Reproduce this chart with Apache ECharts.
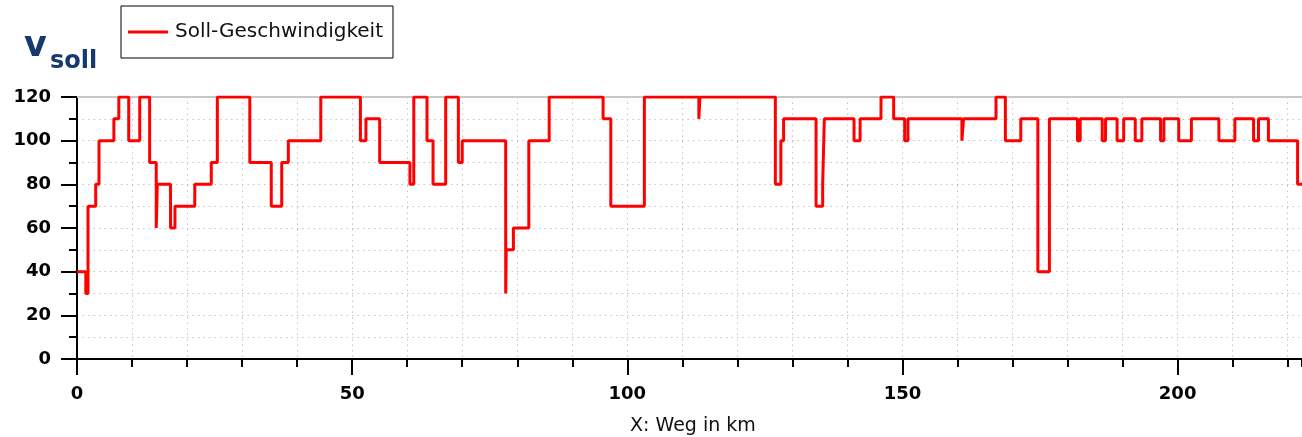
<!DOCTYPE html>
<html>
<head>
<meta charset="utf-8">
<script src="https://cdn.jsdelivr.net/npm/echarts@6/dist/echarts.min.js"></script>
<style>
  html, body { margin: 0; padding: 0; background: #fff; }
  #chart { width: 1302px; height: 437px; }
</style>
</head>
<body>
<div id="chart"></div>
<script>
// Weg in km: Beginn jedes Abschnitts
var wegKm = [
  0, 1.6, 2.0, 3.4, 4.0, 6.7, 7.6, 9.4, 11.4, 13.2, 14.4, 14.6, 17.0, 17.8, 21.4, 24.4, 25.5,
  31.4, 35.3, 37.2, 38.4, 44.3, 51.5, 52.5, 55.0, 60.5, 61.2, 63.6, 64.7, 67.0, 69.3, 70.0,
  77.9, 78.0, 79.3, 82.1, 85.8, 95.6, 97.0, 103.1, 113.0, 113.2, 126.9, 127.9, 128.4,
  134.3, 135.5, 135.8, 141.2, 142.3, 146.1, 148.4, 150.4, 151.0, 160.8, 161.1, 167.0,
  168.7, 171.5, 174.6, 176.7, 181.8, 182.3, 186.3, 186.9, 189.0, 190.2, 192.3, 193.5,
  196.9, 197.5, 200.2, 202.5, 207.5, 210.4, 213.8, 214.7, 216.5, 221.8, 222.7
];
// Soll-Geschwindigkeit je Abschnitt
var vSoll = [
  40, 30, 70, 80, 100, 110, 120, 100, 120, 90, 60, 80, 60, 70, 80, 90, 120,
  90, 70, 90, 100, 120, 100, 110, 90, 80, 120, 100, 80, 120, 90, 100,
  30, 50, 60, 100, 120, 110, 70, 120, 110, 120, 80, 100, 110,
  70, 80, 110, 100, 110, 120, 110, 100, 110, 100, 110, 120,
  100, 110, 40, 110, 100, 110, 100, 110, 100, 110, 100, 110,
  100, 110, 100, 110, 100, 110, 100, 110, 100, 80, 80
];

var data = wegKm.map(function (x, i) { return [x, vSoll[i]]; });

var chart = echarts.init(document.getElementById('chart'));
var fontFam = 'DejaVu Sans';
var gridDot = { color: '#c4c4c4', width: 1, type: [1.5, 4] };
var xMin = 0, xMax = 222.6;

function xLabel(v) {
  return v % 50 === 0 ? String(v) : '';
}

chart.setOption({
  animation: false,
  textStyle: { fontFamily: fontFam },
  grid: { left: 77, right: 0, top: 97, bottom: 78 },
  legend: {
    left: 121, top: 6,
    padding: [16, 10, 16, 7],
    borderColor: '#000', borderWidth: 1,
    itemWidth: 40, itemHeight: 3, itemGap: 0,
    icon: 'path://M0 0H40V3H0Z',
    textStyle: { fontFamily: fontFam, fontSize: 20, color: '#111', padding: [0, 0, 0, 2] },
    data: ['Soll-Geschwindigkeit']
  },
  graphic: [
    { type: 'text', left: 24, top: 29, style: { text: 'v', font: 'bold 35px "DejaVu Sans"', fill: '#173a6e' } },
    { type: 'text', left: 50, top: 50, style: { text: 'soll', font: 'bold 24px "DejaVu Sans"', fill: '#173a6e' } },
    { type: 'text', left: 630, top: 417, style: { text: 'X: Weg in km', font: '19px "DejaVu Sans"', fill: '#111' } }
  ],
  xAxis: [
    {
      type: 'value', min: xMin, max: xMax, interval: 10,
      axisLine: { onZero: false, lineStyle: { color: '#000', width: 2 } },
      axisTick: { length: 8, lineStyle: { color: '#000', width: 2 } },
      axisLabel: { show: false },
      splitLine: { show: true, lineStyle: gridDot }
    },
    {
      type: 'value', min: xMin, max: xMax, interval: 50, position: 'bottom',
      axisLine: { show: false, onZero: false },
      axisTick: { length: 16, lineStyle: { color: '#000', width: 2 } },
      axisLabel: { margin: 26, fontSize: 18, fontWeight: 'bold', color: '#000', formatter: xLabel, showMaxLabel: false },
      splitLine: { show: false }
    },
    {
      type: 'value', min: xMin, max: xMax, position: 'top',
      axisLine: { onZero: false, lineStyle: { color: '#c8c8c8', width: 2 } },
      axisTick: { show: false }, axisLabel: { show: false }, splitLine: { show: false }
    }
  ],
  yAxis: {
    type: 'value', min: 0, max: 120, interval: 20,
    axisLine: { show: true, onZero: false, lineStyle: { color: '#000', width: 2 } },
    axisTick: { show: true, length: 16, lineStyle: { color: '#000', width: 2 } },
    minorTick: { show: true, splitNumber: 2, length: 8, lineStyle: { color: '#000', width: 2 } },
    axisLabel: { margin: 26, fontSize: 18, fontWeight: 'bold', color: '#000' },
    splitLine: { show: true, lineStyle: gridDot },
    minorSplitLine: { show: true, lineStyle: gridDot }
  },
  series: [{
    name: 'Soll-Geschwindigkeit',
    type: 'line',
    step: 'end',
    xAxisIndex: 0,
    data: data,
    symbol: 'none',
    color: '#ff0000',
    lineStyle: { color: '#ff0000', width: 3 },
    z: 5
  }]
});
</script>
</body>
</html>
